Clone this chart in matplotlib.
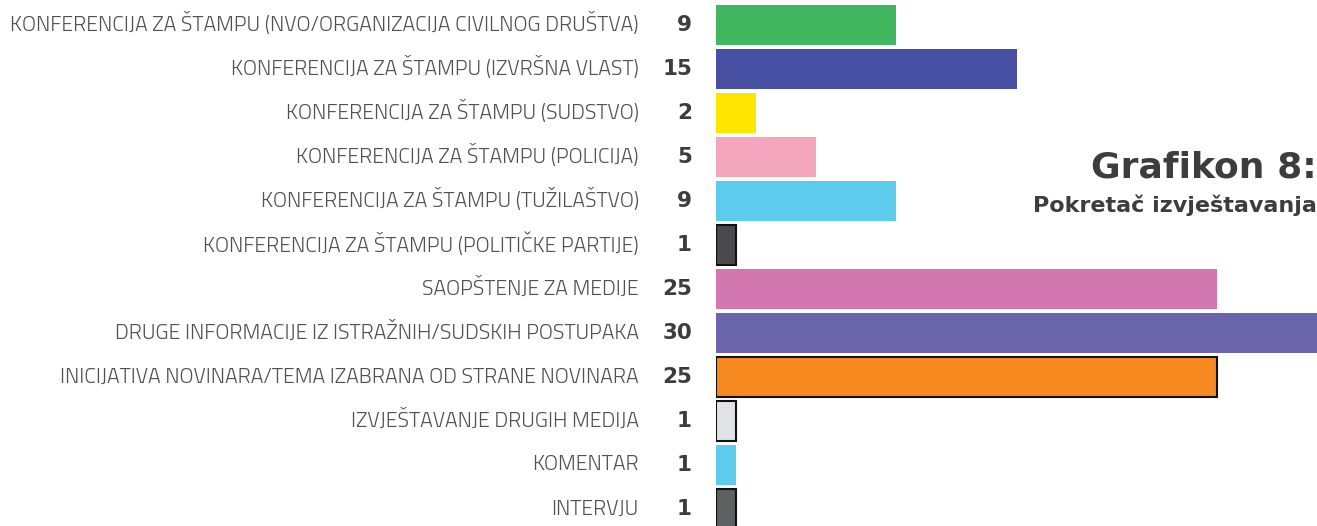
import matplotlib.pyplot as plt
from matplotlib import font_manager

categories = [
    "KONFERENCIJA ZA ŠTAMPU (NVO/ORGANIZACIJA CIVILNOG DRUŠTVA)",
    "KONFERENCIJA ZA ŠTAMPU (IZVRŠNA VLAST)",
    "KONFERENCIJA ZA ŠTAMPU (SUDSTVO)",
    "KONFERENCIJA ZA ŠTAMPU (POLICIJA)",
    "KONFERENCIJA ZA ŠTAMPU (TUŽILAŠTVO)",
    "KONFERENCIJA ZA ŠTAMPU (POLITIČKE PARTIJE)",
    "SAOPŠTENJE ZA MEDIJE",
    "DRUGE INFORMACIJE IZ ISTRAŽNIH/SUDSKIH POSTUPAKA",
    "INICIJATIVA NOVINARA/TEMA IZABRANA OD STRANE NOVINARA",
    "IZVJEŠTAVANJE DRUGIH MEDIJA",
    "KOMENTAR",
    "INTERVJU",
]
values = [9, 15, 2, 5, 9, 1, 25, 30, 25, 1, 1, 1]
colors = ["#41b85f", "#4750a2", "#ffe600", "#f5a6bf", "#5ccbec", "#4a4a4d",
          "#d277af", "#6b66ac", "#f6891f", "#e2e3e5", "#5ccbec", "#5f6062"]
outlined = [False, False, False, False, False, True,
            False, False, True, True, False, True]


def pick(*fams):
    names = {f.name for f in font_manager.fontManager.ttflist}
    return [f for f in fams if f in names] + ["DejaVu Sans"]


label_font = pick("Titillium Web", "Roboto Condensed")
num_font = ["DejaVu Sans"]

W, H = 1317, 526
fig = plt.figure(figsize=(W / 100, H / 100), dpi=100)
ax = fig.add_axes([716 / W, 0, 601 / W, 1])

ypos = list(range(len(values)))
for y, v, c, o in zip(ypos, values, colors, outlined):
    ax.barh(y, v, height=0.9, color=c,
            edgecolor="#111111" if o else c, linewidth=1.5 if o else 0)

ax.set_xlim(0, 30)
# rows are 44 px apart, first centre 25 px from the top
ax.set_ylim((H - 25) / 44, -25 / 44)
ax.axis("off")

for y, name, v in zip(ypos, categories, values):
    ax.text(-1.2, y, str(v), ha="right", va="center", fontsize=15.5,
            fontweight="heavy", color="#3d3d3f", family=num_font)
    ax.text(-3.85, y, name, ha="right", va="center", fontsize=15.3,
            color="#505052", family=label_font, fontweight=300)

fig.text(1.0, 1 - 177 / H, "Grafikon 8:", ha="right", va="baseline",
         fontsize=26, fontweight="heavy", color="#3d3d3f", family=num_font)
fig.text(1.0, 1 - 212 / H, "Pokretač izvještavanja", ha="right", va="baseline",
         fontsize=16, fontweight="heavy", color="#3d3d3f", family=num_font)

fig.savefig("out.png", dpi=100)
